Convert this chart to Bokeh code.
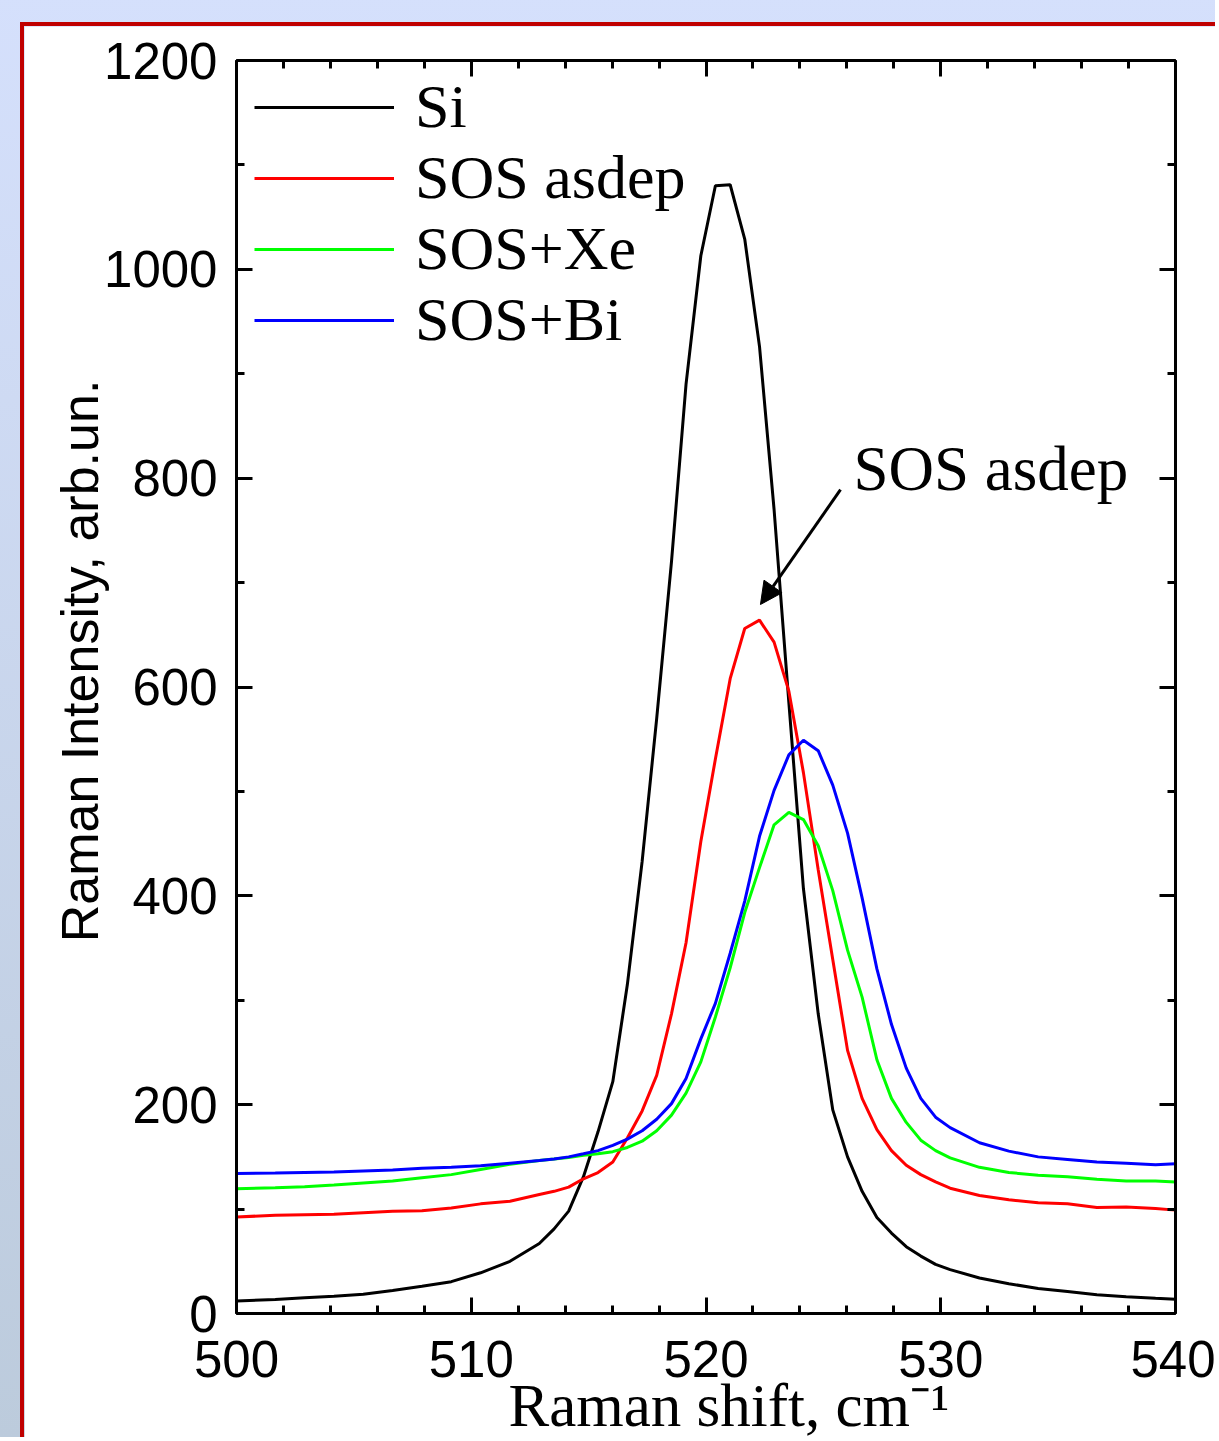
from bokeh.plotting import figure
from bokeh.models import (LinearAxis, Label, Arrow, NormalHead, Legend, LegendItem,
                          Range1d, FixedTicker)
from bokeh.layouts import column
from bokeh.embed import file_html
from bokeh.resources import INLINE

# ---------------- data ----------------
x_cm = [500.0, 501.65, 502.9, 504.15, 505.4, 506.65, 507.9, 509.15, 510.4, 511.65,
        512.9, 513.53, 514.15, 514.78, 515.4, 516.03, 516.65, 517.28, 517.9, 518.53,
        519.15, 519.78, 520.4, 521.03, 521.65, 522.28, 522.9, 523.53, 524.15, 524.78,
        525.4, 526.03, 526.65, 527.28, 527.9, 528.53, 529.15, 529.78, 530.4, 531.65,
        532.9, 534.15, 535.4, 536.65, 537.9, 539.15, 540.0]

si = [12, 13.5, 15, 16.5, 18.5, 22, 26, 30.5, 39, 50,
      67, 81, 98, 131, 174, 222, 315, 433, 570, 720,
      890, 1013, 1080, 1081, 1029, 926, 770, 585, 407, 287,
      195, 150, 117, 92, 77, 64, 55, 47, 42, 34,
      28.5, 24, 21, 18, 16, 14.5, 13.7]

sos_asdep = [92.5, 94, 94.5, 95, 96.5, 98, 98.5, 101, 105, 107.5,
             114, 117, 121, 129, 135, 145, 168, 194, 228, 287,
             355, 452, 531, 608, 656, 664, 643, 596, 518, 425,
             339, 252, 206, 176, 156, 142, 133, 126, 120, 113,
             109, 106, 105, 101.5, 102, 100.5, 99]

sos_xe = [119.5, 120.5, 121.5, 123, 125, 127, 130, 133, 138, 143,
          146.5, 148, 149.5, 151.5, 153, 155, 159, 165, 175, 190,
          211, 241, 284, 331, 384, 427, 468, 480, 473, 448,
          405, 348, 303, 243, 206, 183, 166, 156, 149, 140,
          135, 132.5, 131, 128.5, 127, 127, 126]

sos_bi = [134, 134.5, 135, 135.5, 136.5, 137.5, 139, 140, 141.5, 144,
          146.5, 148, 150, 153, 156, 161, 167, 175, 186, 201,
          225, 263, 297, 345, 395, 457, 501, 535, 549, 539,
          506, 460, 398, 330, 277, 235, 206, 188, 178, 163.5,
          155.5, 150, 147.5, 145, 144, 142.5, 143.5]

series_names = ["Si", "SOS asdep", "SOS+Xe", "SOS+Bi"]
series_colors = ["#000000", "#ff0000", "#00ff00", "#0000ff"]

x_major = [500, 510, 520, 530, 540]
x_minor = list(range(500, 541, 2))
y_major = [0, 200, 400, 600, 800, 1000, 1200]
y_minor = list(range(0, 1201, 100))

x_title = "\u2002\u00a0Raman shift, cm\u207b\u00b9"
y_title = "\u2003Raman Intensity, arb.un."

# annotation anchor positions (data units)
note_text = "SOS asdep"
note_pos = (526.28, 809.0)
arrow_start = (525.73, 789.0)
arrow_end = (522.32, 679.0)

# ---------------- figure ----------------
p = figure(width=1195, height=1415,
           x_range=Range1d(500, 540), y_range=Range1d(0, 1200),
           output_backend="svg", toolbar_location=None,
           min_border_left=212, min_border_right=44,
           min_border_top=34, min_border_bottom=125)
p.styles = {"border-left": "4px solid #c00000", "border-top": "4px solid #c00000"}
p.background_fill_color = "white"
p.border_fill_color = "white"
p.outline_line_color = None
p.xgrid.visible = False
p.ygrid.visible = False

renderers = []
for ys, col in zip([si, sos_asdep, sos_xe, sos_bi], series_colors):
    r = p.line(x_cm, ys, line_color=col, line_width=3)
    renderers.append(r)


def style_axis(ax, show_labels, major, minor):
    ax.ticker = FixedTicker(ticks=major, minor_ticks=minor)
    ax.axis_line_width = 3
    ax.axis_line_color = "black"
    ax.major_tick_line_width = 3
    ax.minor_tick_line_width = 3
    ax.major_tick_in = 16
    ax.major_tick_out = 0
    ax.minor_tick_in = 8
    ax.minor_tick_out = 0
    if show_labels:
        ax.major_label_text_font = "Liberation Sans"
        ax.major_label_text_font_size = "51px"
        ax.major_label_text_color = "black"
    else:
        ax.major_label_text_font_size = "0px"
        ax.major_label_text_alpha = 0


style_axis(p.xaxis[0], True, x_major, x_minor)
style_axis(p.yaxis[0], True, y_major, y_minor)
p.xaxis[0].major_label_standoff = 27
p.yaxis[0].major_label_standoff = 19

p.xaxis[0].axis_label = x_title
p.xaxis[0].axis_label_text_font = "Liberation Serif"
p.xaxis[0].axis_label_text_font_size = "61px"
p.xaxis[0].axis_label_text_font_style = "normal"
p.xaxis[0].axis_label_text_color = "black"
p.xaxis[0].axis_label_standoff = -8

p.yaxis[0].axis_label = y_title
p.yaxis[0].axis_label_text_font = "Liberation Sans"
p.yaxis[0].axis_label_text_font_size = "52px"
p.yaxis[0].axis_label_text_font_style = "normal"
p.yaxis[0].axis_label_text_color = "black"
p.yaxis[0].axis_label_standoff = -8

top_ax = LinearAxis()
style_axis(top_ax, False, x_major, x_minor)
p.add_layout(top_ax, "above")
right_ax = LinearAxis()
style_axis(right_ax, False, y_major, y_minor)
p.add_layout(right_ax, "right")

# legend
legend = Legend(items=[LegendItem(label=n, renderers=[r]) for n, r in zip(series_names, renderers)],
                location=(18, 958))
legend.background_fill_alpha = 0
legend.border_line_color = None
legend.label_text_font = "Liberation Serif"
legend.label_text_font_size = "62px"
legend.label_text_color = "black"
legend.glyph_width = 140
legend.glyph_height = 58
legend.spacing = 0
legend.padding = 1
legend.margin = 0
legend.label_standoff = 21
p.add_layout(legend)

# annotation
p.add_layout(Label(x=note_pos[0], y=note_pos[1], text=note_text,
                   text_font="Liberation Serif", text_font_size="63px",
                   text_color="black", text_baseline="alphabetic", text_align="left"))
p.add_layout(Arrow(end=NormalHead(size=22, fill_color="black", line_color="black", line_width=1),
                   x_start=arrow_start[0], y_start=arrow_start[1],
                   x_end=arrow_end[0], y_end=arrow_end[1],
                   line_width=3, line_color="black"))

outer = column(p, styles={"background": "linear-gradient(to bottom, #d5e0fc, #bccbdc)",
                          "padding-left": "28px", "padding-top": "30px",
                          "margin": "-8px"})

open("out.html", "w").write(file_html(outer, INLINE))
